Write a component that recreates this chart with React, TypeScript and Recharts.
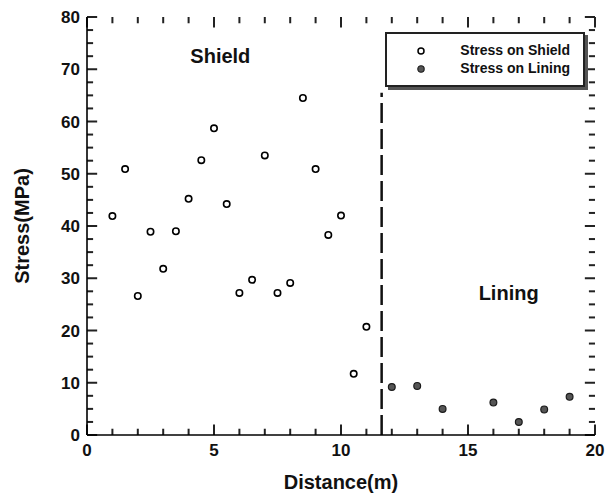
import React from "react";
import {
  ScatterChart,
  Scatter,
  XAxis,
  YAxis,
  ReferenceLine,
  ReferenceDot,
  Label,
} from "recharts";

const shieldDistance = [1, 1.5, 2, 2.5, 3, 3.5, 4, 4.5, 5, 5.5, 6, 6.5, 7, 7.5, 8, 8.5, 9, 9.5, 10, 10.5, 11];
const shieldStress = [41.9, 50.9, 26.6, 38.9, 31.8, 39.0, 45.2, 52.6, 58.7, 44.2, 27.2, 29.7, 53.5, 27.2, 29.1, 64.5, 50.9, 38.3, 42.0, 11.7, 20.7];

const liningDistance = [12, 13, 14, 16, 17, 18, 19];
const liningStress = [9.2, 9.4, 5.0, 6.2, 2.5, 4.9, 7.3];

const boundaryX = 11.6;
const boundaryTop = 65.5;

const xTicks = Array.from({ length: 21 }, (_, i) => i); // 0..20
const yTicks = Array.from({ length: 33 }, (_, i) => i * 2.5); // 0..80
const xLabels = [0, 5, 10, 15, 20];
const yLabels = [0, 10, 20, 30, 40, 50, 60, 70, 80];

const seriesNames = ["Stress on Shield", "Stress on Lining"];

const shieldData = shieldDistance.map((x, i) => ({ x, y: shieldStress[i] }));
const liningData = liningDistance.map((x, i) => ({ x, y: liningStress[i] }));

const FONT = '"Liberation Sans", Arial, sans-serif';
const W = 608;
const H = 499;
const PLOT_TOP = 17;
const PLOT_RIGHT = 595;
const INK = "#222222";

// tick lengths in data units (ticks point inward on all four sides)
const X_MAJOR = 2.0;
const X_MINOR = 1.2;
const Y_MAJOR = 0.4;
const Y_MINOR = 0.24;

const XTick = (props: any) => {
  const { x, y, payload } = props;
  return (
    <text x={x} y={y + 21} textAnchor="middle" fontFamily={FONT} fontWeight={700} fontSize={17} fill="#111">
      {payload.value}
    </text>
  );
};

const YTick = (props: any) => {
  const { x, y, payload } = props;
  return (
    <text x={x - 7} y={y + 6} textAnchor="end" fontFamily={FONT} fontWeight={700} fontSize={17} fill="#111">
      {payload.value}
    </text>
  );
};

const OpenCircle = (props: any) => (
  <circle cx={props.cx} cy={props.cy} r={3.2} fill="#fff" stroke="#000" strokeWidth={1.6} />
);

const FilledCircle = (props: any) => (
  <circle cx={props.cx} cy={props.cy} r={3.4} fill="#555" stroke="#1a1a1a" strokeWidth={1.2} />
);

const LegendBox = () => (
  <div
    style={{
      position: "absolute",
      left: 385,
      top: 32,
      width: 200,
      height: 55,
      boxSizing: "border-box",
      border: "2.5px solid #222",
      boxShadow: "3px 3px 0 #555",
      background: "#fff",
      fontFamily: FONT,
      fontWeight: 700,
      fontSize: 14,
      color: "#111",
    }}
  >
    {seriesNames.map((name, i) => (
      <div key={name} style={{ position: "absolute", left: 0, top: 8 + i * 18, width: 183, height: 18 }}>
        <svg width={10} height={10} style={{ position: "absolute", left: 29, top: 4 }}>
          {i === 0 ? (
            <circle cx={5} cy={5} r={3} fill="#fff" stroke="#000" strokeWidth={1.5} />
          ) : (
            <circle cx={5} cy={5} r={3.2} fill="#555" stroke="#1a1a1a" strokeWidth={1.1} />
          )}
        </svg>
        <span style={{ position: "absolute", right: 0, top: 0, whiteSpace: "nowrap" }}>{name}</span>
      </div>
    ))}
  </div>
);

export default function App() {
  return (
    <div style={{ position: "absolute", left: 0, top: 0, width: W, height: H, background: "#fff" }}>
      <ScatterChart width={W} height={H} margin={{ top: PLOT_TOP, right: W - PLOT_RIGHT, bottom: 20, left: 27 }}>
        <XAxis
          type="number"
          dataKey="x"
          domain={[0, 20]}
          ticks={xLabels}
          interval={0}
          tick={<XTick />}
          tickLine={false}
          tickSize={0}
          tickMargin={0}
          axisLine={{ stroke: "#000", strokeWidth: 1.6 }}
          height={44}
        >
          <Label
            content={(p: any) => (
              <text
                x={p.viewBox.x + p.viewBox.width / 2}
                y={p.viewBox.y + 54}
                textAnchor="middle"
                fontFamily={FONT}
                fontWeight={700}
                fontSize={20}
                fill="#111"
              >
                Distance(m)
              </text>
            )}
          />
        </XAxis>
        <XAxis xAxisId="top" orientation="top" type="number" domain={[0, 20]} ticks={[]} tick={false} tickLine={false} axisLine={{ stroke: "#000", strokeWidth: 1.6 }} height={0} />
        <YAxis
          type="number"
          dataKey="y"
          domain={[0, 80]}
          ticks={yLabels}
          interval={0}
          tick={<YTick />}
          tickLine={false}
          tickSize={0}
          tickMargin={0}
          axisLine={{ stroke: "#000", strokeWidth: 1.6 }}
          width={60}
        >
          <Label
            content={(p: any) => {
              const cx = 22;
              const cy = p.viewBox.y + p.viewBox.height / 2;
              return (
                <text
                  x={cx}
                  y={cy}
                  transform={`rotate(-90 ${cx} ${cy})`}
                  textAnchor="middle"
                  dominantBaseline="central"
                  fontFamily={FONT}
                  fontWeight={700}
                  fontSize={20}
                  fill="#111"
                >
                  Stress(MPa)
                </text>
              );
            }}
          />
        </YAxis>
        <YAxis yAxisId="right" orientation="right" type="number" domain={[0, 80]} ticks={[]} tick={false} tickLine={false} axisLine={{ stroke: "#000", strokeWidth: 1.6 }} width={0} />
        {/* inward tick marks, bottom and top */}
        {xTicks.map((v) => (
          <ReferenceLine
            key={`xb${v}`}
            segment={[{ x: v, y: 0 }, { x: v, y: v % 5 === 0 ? X_MAJOR : X_MINOR }]}
            stroke={INK}
            strokeWidth={2}
          />
        ))}
        {xTicks.map((v) => (
          <ReferenceLine
            key={`xt${v}`}
            segment={[{ x: v, y: 80 }, { x: v, y: 80 - (v % 5 === 0 ? X_MAJOR : X_MINOR) }]}
            stroke={INK}
            strokeWidth={2}
          />
        ))}
        {/* inward tick marks, left and right */}
        {yTicks.map((v) => (
          <ReferenceLine
            key={`yl${v}`}
            segment={[{ x: 0, y: v }, { x: v % 10 === 0 ? Y_MAJOR : Y_MINOR, y: v }]}
            stroke={INK}
            strokeWidth={2}
          />
        ))}
        {yTicks.map((v) => (
          <ReferenceLine
            key={`yr${v}`}
            segment={[{ x: 20, y: v }, { x: 20 - (v % 10 === 0 ? Y_MAJOR : Y_MINOR), y: v }]}
            stroke={INK}
            strokeWidth={2}
          />
        ))}
        <ReferenceLine
          segment={[
            { x: boundaryX, y: 0 },
            { x: boundaryX, y: boundaryTop },
          ]}
          stroke="#111"
          strokeWidth={2.5}
          strokeDasharray="20 6"
        />
        <ReferenceDot
          x={5.25}
          y={72.5}
          r={0}
          label={{ value: "Shield", position: "center", fontFamily: FONT, fontWeight: 700, fontSize: 20, fill: "#111" }}
        />
        <ReferenceDot
          x={16.6}
          y={27.2}
          r={0}
          label={{ value: "Lining", position: "center", fontFamily: FONT, fontWeight: 700, fontSize: 20, fill: "#111" }}
        />
        <Scatter name={seriesNames[0]} data={shieldData} shape={<OpenCircle />} isAnimationActive={false} />
        <Scatter name={seriesNames[1]} data={liningData} shape={<FilledCircle />} isAnimationActive={false} />
      </ScatterChart>
      <LegendBox />
    </div>
  );
}
